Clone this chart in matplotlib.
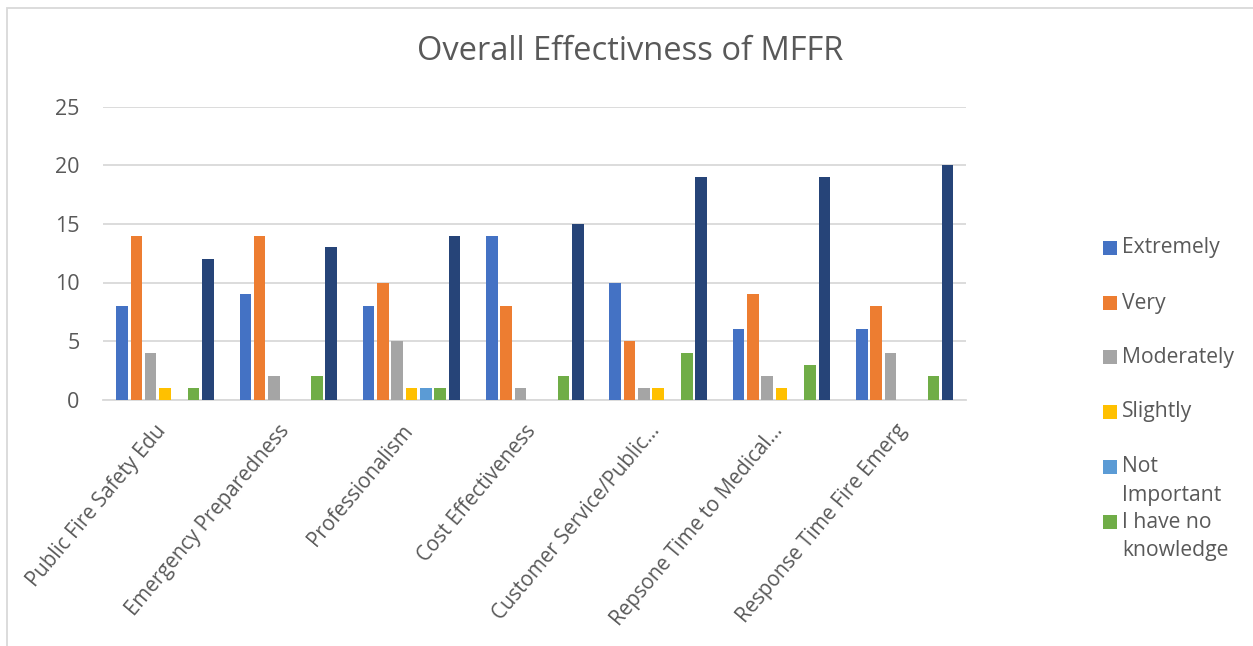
import matplotlib
matplotlib.use("Agg")
import matplotlib.pyplot as plt
import matplotlib.transforms as mtransforms
from matplotlib.patches import Rectangle
import numpy as np

categories = [
    "Public Fire Safety Edu",
    "Emergency Preparedness",
    "Professionalism",
    "Cost Effectiveness",
    "Customer Service/Public...",
    "Repsone Time to Medical...",
    "Response Time Fire Emerg",
]
extremely = [8, 9, 8, 14, 10, 6, 6]
very = [14, 14, 10, 8, 5, 9, 8]
moderately = [4, 2, 5, 1, 1, 2, 4]
slightly = [1, 0, 1, 0, 1, 1, 0]
not_important = [0, 0, 1, 0, 0, 0, 0]
no_knowledge = [1, 2, 1, 2, 4, 3, 2]
total = [12, 13, 14, 15, 19, 19, 20]

series = [extremely, very, moderately, slightly, not_important, no_knowledge, total]
legend_labels = ["Extremely", "Very", "Moderately", "Slightly", "Not\nImportant",
                 "I have no\nknowledge"]
colors = ["#4472C4", "#ED7D31", "#A5A5A5", "#FFC000", "#5B9BD5", "#70AD47", "#264478"]
yticks = [0, 5, 10, 15, 20, 25]

FONT = "Open Sans"
TEXT = "#595959"
GRID = "#D9D9D9"

W, H = 1253, 646
fig = plt.figure(figsize=(W / 100, H / 100), dpi=100)


def fx(x):
    return x / W


def fy(y):
    return 1 - y / H


# chart frame
fig.patches.append(Rectangle((fx(7), fy(660)), fx(1260) - fx(7), fy(8) - fy(660),
                             transform=fig.transFigure, fill=False,
                             edgecolor=GRID, linewidth=1.3))

ax = fig.add_axes([fx(103.3), fy(399.7), fx(966.4) - fx(103.3), fy(106.7) - fy(399.7)])

x = np.arange(len(categories))
slot = 0.116
bar_w = 0.094
for k, (vals, c) in enumerate(zip(series, colors)):
    ax.bar(x + (k - 3) * slot, vals, width=bar_w, color=c, linewidth=0, zorder=3)

ax.set_xlim(-0.5, len(categories) - 0.5)
ax.set_ylim(0, 25)
ax.set_yticks(yticks)
ax.set_yticklabels([str(v) for v in yticks], fontfamily=FONT, fontsize=15.5, color=TEXT)
ax.yaxis.grid(True, color=GRID, linewidth=1.3, zorder=0)
ax.tick_params(axis="y", length=0, pad=17)
ax.tick_params(axis="x", length=0, pad=15)
ax.set_xticks(x)
ax.set_xticklabels(categories, rotation=50, ha="right", va="top",
                   fontfamily=FONT, fontsize=14.8, color=TEXT)
shift = mtransforms.ScaledTranslation(6 / 100, 0, fig.dpi_scale_trans)
for lbl in ax.get_xticklabels():
    lbl.set_transform(lbl.get_transform() + shift)
for s in ["top", "right", "left"]:
    ax.spines[s].set_visible(False)
ax.spines["bottom"].set_color(GRID)
ax.spines["bottom"].set_linewidth(1.3)

fig.text(fx(630), fy(52), "Overall Effectivness of MFFR", ha="center", va="center",
         fontfamily=FONT, fontsize=23.5, color=TEXT)

# legend
entries_y = [248, 303, 357, 412, 467, 522]
for lab, c, yy in zip(legend_labels, colors, entries_y):
    fig.patches.append(Rectangle((fx(1103), fy(yy + 7)), fx(14), 14 / H,
                                 transform=fig.transFigure, facecolor=c, edgecolor="none"))
    for j, ln in enumerate(lab.split("\n")):
        fig.text(fx(1122), fy(yy + j * 28.5), ln, ha="left", va="center",
                 fontfamily=FONT, fontsize=15.2, color=TEXT)

fig.savefig("out.png", dpi=100, facecolor="white")
